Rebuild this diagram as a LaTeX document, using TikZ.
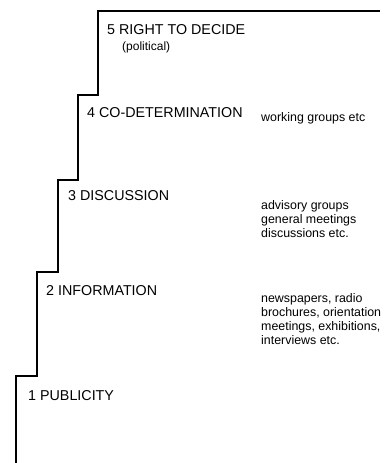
\documentclass[tikz,border=0pt]{standalone}
\usepackage{fontspec}
\setmainfont{Liberation Sans}
\begin{document}
\begin{tikzpicture}[x=1pt,y=-1pt,
  stairline/.style={line width=1.6pt, line join=miter},
  level/.style={anchor=west, inner sep=0pt, font=\fontsize{14.3}{16}\selectfont},
  sub/.style={anchor=west, inner sep=0pt, font=\fontsize{12}{14}\selectfont},
  examples/.style={anchor=north west, inner sep=0pt, align=left, font=\fontsize{12.4}{14.2}\selectfont}]
\useasboundingbox (0,0) rectangle (389,463);
% staircase
\draw[stairline] (16,463) -- (16,376) -- (37,376) -- (37,272) -- (58,272) -- (58,180)
  -- (78,180) -- (78,95) -- (98,95) -- (98,11) -- (380,11);
% level labels
\node[level] (l5) at (107,29.5) {5 RIGHT TO DECIDE};
\node[sub] (l5sub) at (122,47) {(political)};
\node[level] (l4) at (87,113) {4 CO-DETERMINATION};
\node[level] (l3) at (68,196) {3 DISCUSSION};
\node[level] (l2) at (46,291) {2 INFORMATION};
\node[level] (l1) at (28,396) {1 PUBLICITY};
% examples
\node[examples] (e4) at (261,112) {working groups etc};
\node[examples] (e3) at (261,200) {advisory groups\\general meetings\\discussions etc.};
\node[examples] (e2) at (261,293) {newspapers, radio\\brochures, orientation\\meetings, exhibitions,\\interviews etc.};
\end{tikzpicture}
\end{document}
